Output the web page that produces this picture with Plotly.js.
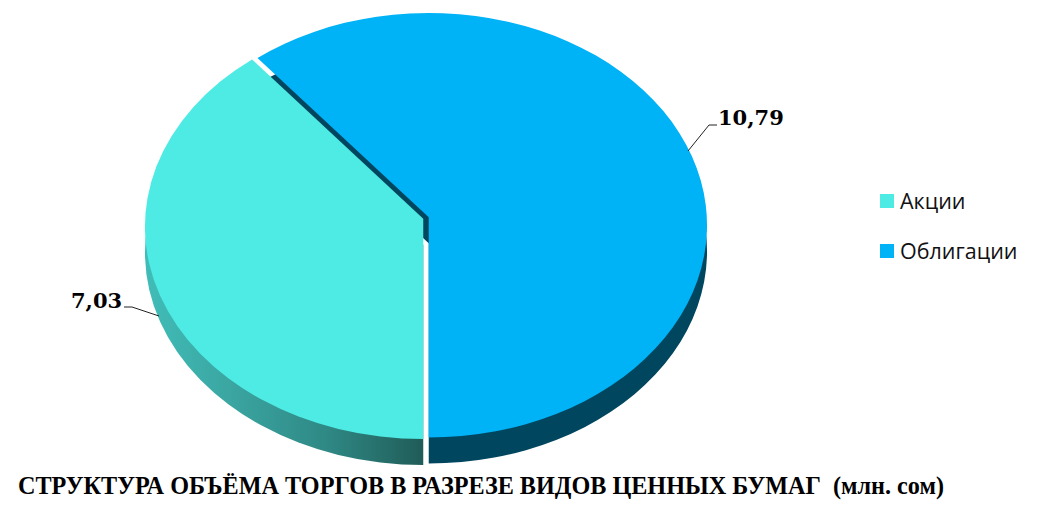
<!DOCTYPE html>
<html><head><meta charset="utf-8">
<script src="https://cdn.plot.ly/plotly-3.0.1.min.js"></script>
<style>html,body{margin:0;padding:0;background:#fff;overflow:hidden}#c{width:1043px;height:517px}</style>
</head><body><div id="c"></div>
<script>
const categories = ["Акции", "Облигации"];
const seriesValues = [7.03, 10.79];
const valueLabels = ["7,03", "10,79"];
const topColors = ["#4DEBE4", "#00B2F6"];
const sideColors = ["#3AB0AB", "#00465F"];
const chartTitle = "СТРУКТУРА ОБЪЁМА ТОРГОВ В РАЗРЕЗЕ ВИДОВ ЦЕННЫХ БУМАГ&nbsp; (млн. сом)";

const W = 1043, H = 517;
const pull = 0.0104;
const common = {type:"pie", labels:categories, values:seriesValues, sort:false, direction:"clockwise",
  rotation:180, textinfo:"none", hoverinfo:"skip", pull:[pull,pull], domain:{x:[0.2,0.8],y:[0.1,0.9]}};
const traces = [
  Object.assign({}, common, {showlegend:false, marker:{colors:sideColors, line:{width:0}}}),
  Object.assign({}, common, {showlegend:true, marker:{colors:topColors, line:{width:0}}})
];
const px = (x,y)=>({x:x/W, y:1-y/H});
function seg(x0,y0,x1,y1){const a=px(x0,y0),b=px(x1,y1);
  return {type:"line",xref:"paper",yref:"paper",x0:a.x,y0:a.y,x1:b.x,y1:b.y,line:{color:"#222",width:1}};}
const layout = {
  width:W, height:H, margin:{l:0,r:0,t:0,b:0}, paper_bgcolor:"#fff",
  title:{text:chartTitle, x:18/W, xanchor:"left", xref:"paper", y:1-486/H, yanchor:"middle", yref:"paper",
         font:{family:"Liberation Serif", size:24.2, color:"#000", weight:700}},
  legend:{x:876/W, xanchor:"left", y:1-190/H, yanchor:"top", font:{family:"Open Sans", size:21.5, color:"#111"},
          bgcolor:"rgba(0,0,0,0)", itemclick:false, itemdoubleclick:false},
  shapes:[seg(688,151,709,125),seg(709,125,717,125),seg(124,307,132,307),seg(132,307,159,316)],
  annotations:[
    {xref:"paper",yref:"paper",x:96/W,y:1-300/H,text:valueLabels[0],showarrow:false,xanchor:"center",yanchor:"middle",
     font:{family:"DejaVu Serif",size:21,color:"#000",weight:700}},
    {xref:"paper",yref:"paper",x:751/W,y:1-117/H,text:valueLabels[1],showarrow:false,xanchor:"center",yanchor:"middle",
     font:{family:"DejaVu Serif",size:21,color:"#000",weight:700}}
  ]
};
const gd = document.getElementById("c");
Plotly.newPlot(gd, traces, layout, {staticPlot:true, displayModeBar:false}).then(()=>{
  const Cx=426, Cy=226, rx=278.3, ry=212.3, depth=26, apexShift=-8;
  const groups = gd.querySelectorAll(".pielayer .trace");
  groups.forEach((g,i)=>{
    const cd = gd.calcdata[i][0];
    const sx = rx/cd.r, sy = ry/cd.r;
    const dy = i===0 ? depth : 0;
    g.setAttribute("transform",`translate(${Cx},${Cy+dy}) scale(${sx},${sy}) translate(${-cd.cx},${-cd.cy})`);
    // move the apex of each slice up: the tilted pie's centre sits above the ellipse centre
    g.querySelectorAll(".surface").forEach(p=>{
      const d=p.getAttribute("d");
      const m=d.match(/^M\s*([-\d.e]+)[ ,]([-\d.e]+)\s*l\s*([-\d.e]+)[ ,]([-\d.e]+)(.*)$/s);
      if(m){
        const ax=+m[1], ay=+m[2], s=apexShift/sy;
        p.setAttribute("d",`M${ax},${ay+s}L${ax+ +m[3]},${ay+ +m[4]}${m[5]}`);
      }
    });
  });
  // side shading of the teal slice
  const svg = gd.querySelector(".main-svg");
  const NS="http://www.w3.org/2000/svg";
  let defs = svg.querySelector("defs");
  const lg=document.createElementNS(NS,"linearGradient");
  lg.setAttribute("id","tealSide");
  [["0","#40BDB8"],["0.3","#3BA6A2"],["0.65","#2F8985"],["1","#205C58"]].forEach(([o,c])=>{
    const s=document.createElementNS(NS,"stop");s.setAttribute("offset",o);s.setAttribute("stop-color",c);lg.appendChild(s);});
  defs.appendChild(lg);
  const sideSurf = groups[0].querySelectorAll(".surface");
  if(sideSurf[0]) sideSurf[0].style.fill="url(#tealSide)";
  // legend: spacing and swatch size
  const leg = gd.querySelector(".legend");
  if(leg){
    const sb = leg.querySelector(".scrollbox"); if(sb) sb.removeAttribute("clip-path");
    leg.removeAttribute("clip-path");
    const items = leg.querySelectorAll(".traces");
    items.forEach((it,i)=>{
      const y = 11 + i*50;
      it.setAttribute("transform",`translate(0,${y})`);
      it.querySelectorAll(".legendpie").forEach(p=>{
        p.setAttribute("transform","translate(11,0) scale(1.17)");
      });
      it.querySelectorAll(".legendtext").forEach(t=>{
        const tx=parseFloat(t.getAttribute("x"))||0;
        t.setAttribute("x",tx-16);
        t.querySelectorAll("tspan[x]").forEach(s=>s.setAttribute("x",tx-16));
      });
    });
  }
});
</script></body></html>
